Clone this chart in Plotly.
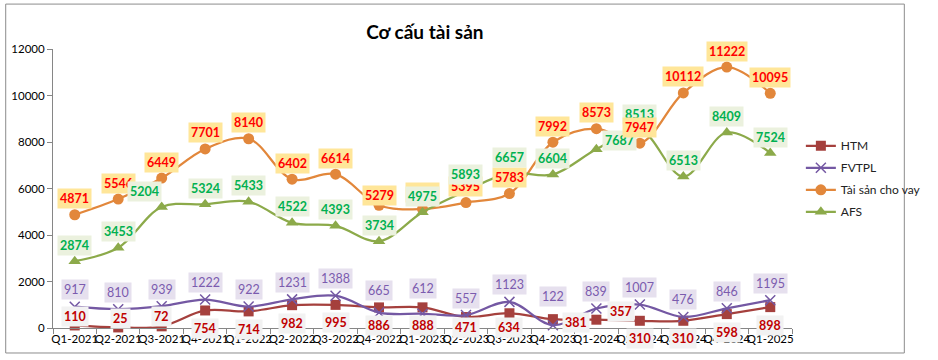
import plotly.graph_objects as go

categories = ["Q1-2021", "Q2-2021", "Q3-2021", "Q4-2021", "Q1-2022", "Q2-2022", "Q3-2022",
              "Q4-2022", "Q1-2023", "Q2-2023", "Q3-2023", "Q4-2023", "Q1-2024", "Q2-2024",
              "Q3-2024", "Q4-2024", "Q1-2025"]
htm = [110, 25, 72, 754, 714, 982, 995, 886, 888, 471, 634, 381, 357, 310, 310, 598, 898]
fvtpl = [917, 810, 939, 1222, 922, 1231, 1388, 665, 612, 557, 1123, 122, 839, 1007, 476, 846, 1195]
loan = [4871, 5546, 6449, 7701, 8140, 6402, 6614, 5279, 5120, 5395, 5783, 7992, 8573, 7947, 10112, 11222, 10095]
afs = [2874, 3453, 5204, 5324, 5433, 4522, 4393, 3734, 4975, 5893, 6657, 6604, 7687, 8513, 6513, 8409, 7524]
y_ticks = [0, 2000, 4000, 6000, 8000, 10000, 12000]

FONT = "Lato"

# series styles: name, values, line colour, marker, label text colour, label bg, default label shift
series = [
    ("HTM", htm, "#A5403D", dict(symbol="square", size=10), "#C00000", "#F2F2F2", -18),
    ("FVTPL", fvtpl, "#7458A3", dict(symbol="x-thin-open", size=10, line=dict(width=1.5, color="#7458A3")), "#7B5BAE", "#E6E0EE", 17),
    ("Tài sản cho vay", loan, "#E2873B", dict(symbol="circle", size=11), "#FF0000", "#FFE699", 16),
    ("AFS", afs, "#8CAA4A", dict(symbol="triangle-up", size=11), "#00B050", "#EBF1DE", 16),
]

# per-label nudges (dx, dy in px) where the original labels were moved by hand
nudges = {
    ("HTM", 0): (0, 9), ("HTM", 1): (2, 9), ("HTM", 2): (0, 10),
    ("HTM", 9): (0, -10), ("HTM", 10): (0, -14),
    ("HTM", 11): (23, -3), ("HTM", 12): (25, 8),
    ("FVTPL", 7): (0, 22), ("FVTPL", 8): (0, 25), ("FVTPL", 11): (0, 29),
    ("Tài sản cho vay", 7): (0, 10),
    ("AFS", 2): (-17, 16), ("AFS", 12): (23, 9),
}
# labels drawn last (on top of the others)
on_top = {("Tài sản cho vay", 13)}

fig = go.Figure()
for i, (name, vals, col, mk, tcol, bg, dy) in enumerate(series):
    fig.add_trace(go.Scatter(
        x=categories, y=vals, name=name, mode="lines+markers",
        line=dict(color=col, width=2.25, shape="spline", smoothing=1),
        marker=dict(color=col, **mk), cliponaxis=False, legendgroup=name,
    ))

annotations, top_annotations = [], []
label_order = ["Tài sản cho vay", "AFS", "FVTPL", "HTM"]
lookup = {s[0]: s for s in series}
for name in label_order:
    _, vals, col, mk, tcol, bg, dy = lookup[name]
    for j, v in enumerate(vals):
        dx, ddy = nudges.get((name, j), (0, dy))
        ann = dict(
            x=categories[j], y=v, xref="x", yref="y", text=f"<b>{v}</b>" if name != "FVTPL" else str(v),
            showarrow=False, xshift=dx, yshift=ddy, bgcolor=bg, borderpad=2,
            font=dict(family=FONT, size=12.5, color=tcol),
        )
        (top_annotations if (name, j) in on_top else annotations).append(ann)

fig.update_layout(
    width=938, height=360,
    margin=dict(l=53, r=121, t=49, b=32),
    paper_bgcolor="white", plot_bgcolor="white",
    font=dict(family=FONT, size=12, color="#000000"),
    title=dict(text="<b>Cơ cấu tài sản</b>", x=0.453, xref="container", xanchor="center",
               y=0.91, yref="container", yanchor="middle",
               font=dict(family=FONT, size=19, color="#000000")),
    xaxis=dict(type="category", range=[-0.5, 16.5], showline=True, linecolor="#868686", linewidth=1,
               ticks="outside", tickson="boundaries", ticklen=5, tickcolor="#868686", tickangle=0,
               automargin=False, showgrid=False, zeroline=False,
               tickfont=dict(family=FONT, size=11.5, color="#000000")),
    yaxis=dict(range=[0, 12000], tickvals=y_ticks, ticktext=[str(v) for v in y_ticks],
               showline=True, linecolor="#868686", linewidth=1, automargin=False,
               ticks="outside", ticklen=5, tickcolor="#868686", showgrid=False, zeroline=False,
               tickfont=dict(family=FONT, size=11.5, color="#000000")),
    legend=dict(x=1.012, y=0.705, xanchor="left", yanchor="top", traceorder="grouped",
                tracegroupgap=3, font=dict(family=FONT, size=12, color="#222222"),
                bgcolor="rgba(0,0,0,0)", itemwidth=30),
    annotations=annotations + top_annotations,
    shapes=[dict(type="rect", xref="paper", yref="paper", x0=-0.064, x1=1.152, y0=-0.0896, y1=1.161,
                 line=dict(color="#8C8C8C", width=1), fillcolor="rgba(0,0,0,0)", layer="below")],
    showlegend=True,
)

fig.write_html("out.html", config={"displayModeBar": False},
               post_script="document.body.style.margin='0';")
